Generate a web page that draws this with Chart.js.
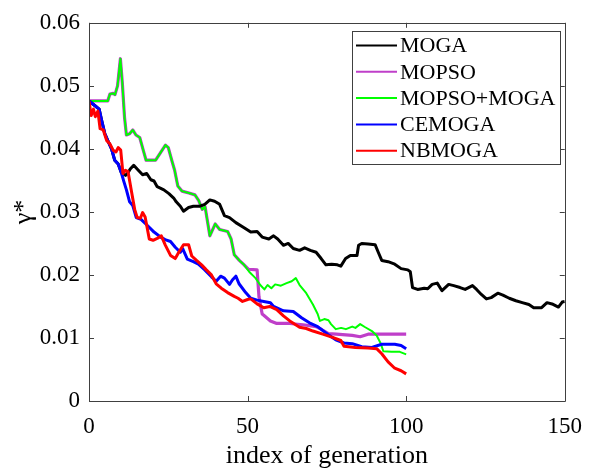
<!DOCTYPE html>
<html>
<head>
<meta charset="utf-8">
<script src="https://cdn.jsdelivr.net/npm/chart.js@4.4.1/dist/chart.umd.min.js"></script>
<style>
  body { margin: 0; background: #fff; }
  #wrap { width: 594px; height: 469px; }
</style>
</head>
<body>
<div id="wrap"><canvas id="myChart" width="594" height="469"></canvas></div>
<script>
// values (gamma* vs. generation)
const seriesNames = ["MOGA", "MOPSO", "MOPSO+MOGA", "CEMOGA", "NBMOGA"];
const xTicks = [0, 50, 100, 150];
const yTicks = [0, 0.01, 0.02, 0.03, 0.04, 0.05, 0.06];

const mogaGen = [0, 2, 3.2, 4, 5, 6.1, 7.1, 8.1, 9.2, 10.2, 11.5, 12.3, 13, 14.1, 15.4, 16.9, 18.2, 19.5, 20.5, 21.5, 23.6, 25.2, 26.7, 27.5, 28.8, 29.8, 31.4, 32.9, 35, 36.5, 38.1, 39.6, 41.2, 42.7, 44.3, 46.3, 48.9, 51, 53, 54.6, 56.7, 58.2, 59.5, 61.3, 62.8, 64.4, 66.4, 68, 69.8, 71.6, 73.2, 74.7, 76.5, 78.3, 79.4, 80.9, 82.4, 84.5, 85, 86, 88, 90.2, 91.2, 92.3, 94.3, 96.4, 98.4, 100.5, 101.3, 102, 103.6, 105.7, 106.8, 108.2, 109.8, 111.3, 113.4, 115, 117, 118.6, 120.9, 122.2, 123.7, 125.3, 126.8, 128.9, 130.5, 132.5, 134.6, 136.6, 138.7, 140.2, 142.7, 144.4, 146, 148, 149.2, 150];
const mogaVal = [0.0476, 0.0468, 0.0463, 0.0445, 0.0424, 0.0411, 0.0400, 0.0382, 0.0376, 0.0362, 0.0358, 0.0362, 0.0368, 0.0374, 0.0367, 0.0359, 0.0361, 0.0351, 0.0349, 0.0340, 0.0335, 0.0329, 0.0322, 0.0316, 0.0309, 0.0301, 0.0307, 0.0309, 0.0309, 0.0312, 0.0319, 0.0317, 0.0312, 0.0294, 0.0291, 0.0283, 0.0275, 0.0268, 0.0269, 0.0260, 0.0257, 0.0262, 0.0257, 0.0247, 0.0250, 0.0242, 0.0239, 0.0243, 0.0239, 0.0236, 0.0226, 0.0216, 0.0217, 0.0216, 0.0214, 0.0226, 0.0231, 0.0231, 0.0247, 0.0250, 0.0249, 0.0248, 0.0236, 0.0223, 0.0221, 0.0217, 0.0210, 0.0208, 0.0205, 0.0180, 0.0177, 0.0179, 0.0178, 0.0185, 0.0187, 0.0175, 0.0185, 0.0183, 0.0180, 0.0177, 0.0183, 0.0177, 0.0169, 0.0162, 0.0164, 0.0171, 0.0168, 0.0163, 0.0159, 0.0156, 0.0153, 0.0148, 0.0148, 0.0156, 0.0154, 0.0149, 0.0157, 0.0158];

const mopsoGen = [0, 5.9, 6.6, 7.6, 8.2, 9.0, 9.9, 10.5, 11.2, 11.8, 12.8, 13.8, 14.8, 16, 17.1, 18, 21, 22.3, 24.1, 25, 26.2, 27, 28, 29.3, 31.5, 33.4, 34.6, 35.7, 36.6, 38.1, 39.8, 41.2, 43.7, 44.8, 45.8, 47.4, 48.9, 50.3, 53, 53.6, 54.6, 55.1, 57.2, 59.2, 63.3, 67.5, 71.6, 73.5, 75.5, 78, 83, 85.5, 88, 92, 100];
const mopsoVal = [0.0476, 0.0476, 0.0487, 0.0488, 0.0486, 0.0500, 0.0543, 0.0505, 0.0450, 0.0422, 0.0424, 0.0430, 0.0422, 0.0418, 0.0398, 0.0382, 0.0382, 0.0392, 0.0406, 0.0402, 0.0380, 0.0366, 0.0341, 0.0333, 0.0330, 0.0327, 0.0318, 0.0304, 0.0308, 0.0262, 0.0281, 0.0272, 0.0269, 0.0257, 0.0232, 0.0223, 0.0216, 0.0209, 0.0208, 0.0165, 0.0138, 0.0136, 0.0127, 0.0123, 0.0123, 0.0121, 0.0118, 0.0113, 0.0107, 0.0106, 0.0104, 0.0102, 0.0106, 0.0106, 0.0106];

const hybridGen = [0, 5.9, 6.6, 7.6, 8.2, 9.0, 9.9, 10.5, 11.2, 11.8, 12.8, 13.8, 14.8, 16, 17.1, 18, 21, 22.3, 24.1, 25, 26.2, 27, 28, 29.3, 31.5, 33.4, 34.6, 35.7, 36.6, 38.1, 39.8, 41.2, 43.7, 44.8, 45.8, 47.4, 48.9, 50.5, 52.5, 54, 55.3, 56.3, 57.5, 58.7, 60.5, 62.3, 63.9, 65.2, 66.4, 68.5, 70.6, 72.1, 72.8, 74.2, 75.5, 76.3, 77.8, 79.5, 81, 83, 84, 85.5, 87.1, 89.2, 90.7, 92, 92.8, 95.4, 98, 100];
const hybridVal = [0.0476, 0.0476, 0.0487, 0.0488, 0.0486, 0.0500, 0.0543, 0.0505, 0.0450, 0.0422, 0.0424, 0.0430, 0.0422, 0.0418, 0.0398, 0.0382, 0.0382, 0.0392, 0.0406, 0.0402, 0.0380, 0.0366, 0.0341, 0.0333, 0.0330, 0.0327, 0.0318, 0.0304, 0.0308, 0.0262, 0.0281, 0.0272, 0.0269, 0.0257, 0.0232, 0.0223, 0.0216, 0.0205, 0.0195, 0.0184, 0.0177, 0.0184, 0.0179, 0.0185, 0.0183, 0.0187, 0.0190, 0.0195, 0.0184, 0.0171, 0.0153, 0.0138, 0.0127, 0.0130, 0.0128, 0.0122, 0.0114, 0.0116, 0.0114, 0.0118, 0.0116, 0.0122, 0.0117, 0.0111, 0.0104, 0.0091, 0.0079, 0.0078, 0.0078, 0.0074];

const cemogaGen = [0, 2, 3.2, 4, 5, 6.1, 7.1, 8.1, 9.2, 10.2, 11, 11.8, 12.8, 13.8, 14.9, 16.4, 18.5, 20.5, 22.6, 24, 25.7, 27.2, 28.8, 29.5, 31, 32.9, 34.5, 36.5, 38.6, 40.1, 41.5, 42.7, 44.3, 45.2, 46.3, 47.3, 49.4, 51, 53, 55.1, 57.2, 58.2, 61.3, 64.4, 67, 69.5, 72.1, 75.2, 77.8, 80.4, 83, 86, 89.2, 92.3, 96.4, 98.4, 100];
const cemogaVal = [0.0476, 0.0468, 0.0463, 0.0445, 0.0424, 0.0411, 0.0400, 0.0382, 0.0376, 0.0362, 0.0348, 0.0335, 0.0316, 0.0310, 0.0291, 0.0288, 0.0278, 0.0268, 0.0260, 0.0256, 0.0253, 0.0244, 0.0236, 0.0242, 0.0225, 0.0221, 0.0217, 0.0208, 0.0197, 0.0190, 0.0198, 0.0195, 0.0185, 0.0192, 0.0198, 0.0186, 0.0172, 0.0163, 0.0160, 0.0158, 0.0156, 0.0150, 0.0143, 0.0142, 0.0132, 0.0124, 0.0118, 0.0106, 0.0097, 0.0092, 0.0091, 0.0086, 0.0085, 0.0090, 0.0090, 0.0088, 0.0083];

const nbmogaGen = [0, 0.7, 1.4, 2, 2.8, 3.5, 4.5, 5.6, 6.6, 7.6, 8.5, 9.2, 10, 10.7, 11.5, 12.3, 13.3, 14.4, 15.2, 16.2, 16.9, 17.7, 19, 20.2, 21.5, 22.8, 24.1, 25.7, 27.2, 28.3, 29.8, 31.4, 32.4, 33.9, 35.5, 37, 38.6, 40.1, 41.7, 43.7, 45.8, 47, 48.4, 50, 51, 53, 55.1, 57, 59.2, 61.3, 63.3, 66.4, 68.5, 70.6, 73.7, 76.8, 79.4, 80.4, 84, 88, 90.7, 92.3, 94.3, 96.4, 98.4, 100];
const nbmogaVal = [0.0476, 0.0453, 0.0463, 0.0451, 0.0460, 0.0432, 0.0430, 0.0413, 0.0408, 0.0398, 0.0395, 0.0402, 0.0398, 0.0361, 0.0366, 0.0364, 0.0335, 0.0304, 0.0291, 0.0290, 0.0299, 0.0292, 0.0257, 0.0255, 0.0258, 0.0262, 0.0247, 0.0231, 0.0226, 0.0236, 0.0248, 0.0248, 0.0230, 0.0223, 0.0216, 0.0208, 0.0200, 0.0186, 0.0179, 0.0172, 0.0166, 0.0163, 0.0158, 0.0161, 0.0162, 0.0154, 0.0148, 0.0150, 0.0145, 0.0135, 0.0127, 0.0117, 0.0115, 0.0111, 0.0106, 0.0101, 0.0096, 0.0087, 0.0085, 0.0084, 0.0083, 0.0075, 0.0062, 0.0052, 0.0048, 0.0043];

function toPoints(gens, vals) {
    return gens.map((g, i) => ({ x: g, y: vals[i] }));
}

const serif = '"Liberation Serif", "Times New Roman", serif';
const axisColor = '#404040';

// MATLAB-like box with inward ticks on all four sides
const boxAxes = {
    id: 'boxAxes',
    afterDatasetsDraw(chart) {
        const { ctx, chartArea: a, scales } = chart;
        const len = 5;
        ctx.save();
        ctx.strokeStyle = axisColor;
        ctx.lineWidth = 1;
        ctx.beginPath();
        ctx.rect(Math.round(a.left) + 0.5, Math.round(a.top) + 0.5,
                 Math.round(a.right) - Math.round(a.left), Math.round(a.bottom) - Math.round(a.top));
        xTicks.forEach(t => {
            const px = Math.round(scales.x.getPixelForValue(t)) + 0.5;
            ctx.moveTo(px, a.bottom); ctx.lineTo(px, a.bottom - len);
            ctx.moveTo(px, a.top); ctx.lineTo(px, a.top + len);
        });
        yTicks.forEach(t => {
            const py = Math.round(scales.y.getPixelForValue(t)) + 0.5;
            ctx.moveTo(a.left, py); ctx.lineTo(a.left + len, py);
            ctx.moveTo(a.right, py); ctx.lineTo(a.right - len, py);
        });
        ctx.stroke();
        ctx.restore();
    }
};

// boxed legend in the upper right corner
const boxLegend = {
    id: 'boxLegend',
    afterDraw(chart) {
        const ctx = chart.ctx;
        const x0 = 352, y0 = 31, w = 208, h = 133;
        ctx.save();
        ctx.fillStyle = '#fff';
        ctx.fillRect(x0, y0, w, h);
        ctx.strokeStyle = axisColor;
        ctx.lineWidth = 1;
        ctx.strokeRect(x0 + 0.5, y0 + 0.5, w, h);
        ctx.font = '22px ' + serif;
        ctx.textBaseline = 'middle';
        chart.data.datasets.forEach((ds, i) => {
            const y = 45.5 + i * 26.3;
            ctx.strokeStyle = ds.borderColor;
            ctx.lineWidth = 2;
            ctx.beginPath();
            ctx.moveTo(356, y); ctx.lineTo(397, y);
            ctx.stroke();
            ctx.fillStyle = '#000';
            ctx.fillText(ds.label, 400, y + 1);
        });
        ctx.restore();
    }
};

const ctx = document.getElementById('myChart').getContext('2d');
const myChart = new Chart(ctx, {
    type: 'line',
    data: {
        datasets: [
            { label: seriesNames[0], data: toPoints(mogaGen, mogaVal), borderColor: '#000000', borderWidth: 3, order: 2 },
            { label: seriesNames[1], data: toPoints(mopsoGen, mopsoVal), borderColor: '#bf3fc9', borderWidth: 3.2, order: 4 },
            { label: seriesNames[2], data: toPoints(hybridGen, hybridVal), borderColor: '#00ff00', borderWidth: 2, order: 3 },
            { label: seriesNames[3], data: toPoints(cemogaGen, cemogaVal), borderColor: '#0000ff', borderWidth: 3, order: 1 },
            { label: seriesNames[4], data: toPoints(nbmogaGen, nbmogaVal), borderColor: '#ff0000', borderWidth: 3, order: 0 }
        ]
    },
    options: {
        responsive: false,
        animation: false,
        elements: {
            point: { radius: 0 },
            line: { tension: 0, fill: false, borderJoinStyle: 'round' }
        },
        layout: { padding: { top: 17, right: 21, left: 0, bottom: 0 } },
        plugins: {
            legend: { display: false },
            tooltip: { enabled: false }
        },
        scales: {
            x: {
                type: 'linear',
                min: 0,
                max: 150,
                afterFit: s => { s.height = 68; },
                afterBuildTicks: s => { s.ticks = xTicks.map(v => ({ value: v })); },
                grid: { display: false, drawTicks: false },
                border: { display: false },
                ticks: { color: '#000', padding: 12, font: { family: serif, size: 23 }, maxRotation: 0 },
                title: {
                    display: true,
                    text: 'index of generation',
                    color: '#000',
                    font: { family: serif, size: 26, lineHeight: 1 },
                    padding: { top: 0, bottom: 0 }
                }
            },
            y: {
                min: 0,
                max: 0.06,
                afterFit: s => { s.width = 89; },
                afterBuildTicks: s => { s.ticks = yTicks.map(v => ({ value: v })); },
                grid: { display: false, drawTicks: false },
                border: { display: false },
                ticks: {
                    color: '#000',
                    padding: 9,
                    font: { family: serif, size: 23 },
                    callback: v => String(+v.toFixed(2))
                },
                title: {
                    display: true,
                    text: 'γ*',
                    color: '#000',
                    font: { family: serif, size: 26 },
                    padding: { top: 9, bottom: 0 }
                }
            }
        }
    },
    plugins: [boxAxes, boxLegend]
});
</script>
</body>
</html>
